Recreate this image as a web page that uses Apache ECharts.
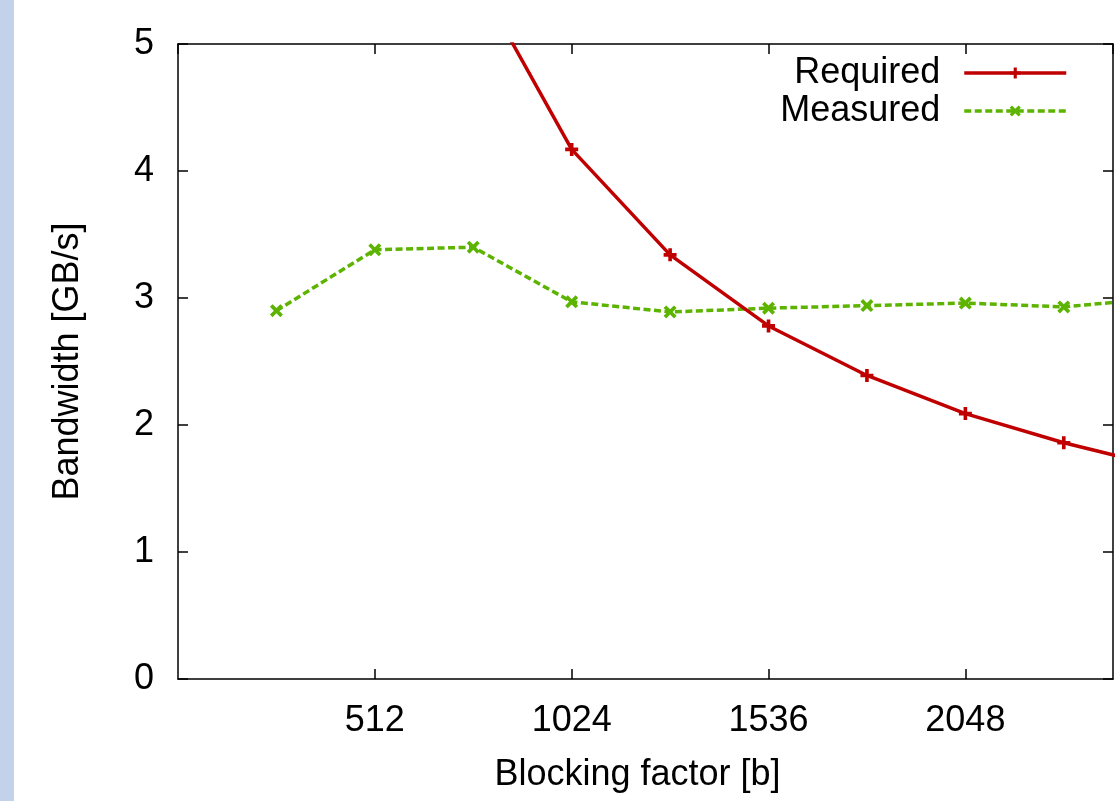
<!DOCTYPE html>
<html>
<head>
<meta charset="utf-8">
<script src="https://cdn.jsdelivr.net/npm/echarts@6/dist/echarts.min.js"></script>
<style>
html,body{margin:0;padding:0;background:#fff;}
#chart{width:1115px;height:801px;}
</style>
</head>
<body>
<div id="chart"></div>
<script>
// ---- data ----
var blockSizes = [256, 512, 768, 1024, 1280, 1536, 1792, 2048, 2304, 2560];
var requiredBW = [16.68, 8.34, 5.56, 4.17, 3.34, 2.78, 2.39, 2.09, 1.86, 1.67];
var measuredBW = [2.90, 3.38, 3.40, 2.97, 2.89, 2.92, 2.94, 2.96, 2.93, 3.00];
var seriesNames = ['Required', 'Measured'];
var xTitle = 'Blocking factor [b]';
var yTitle = 'Bandwidth [GB/s]';

function pairs(xs, ys) { return xs.map(function (x, i) { return [x, ys[i]]; }); }

var FONT = 'Liberation Sans, Arial, Helvetica, sans-serif';
var FS = 36;
var RED = '#c00000';
var GREEN = '#5cb400';
var plusPath = 'path://M3.6,0h2.8v3.6h3.6v2.8h-3.6v3.6h-2.8v-3.6h-3.6v-2.8h3.6z';
var crossPath = 'path://M0,2L2,0L5,3L8,0L10,2L7,5L10,8L8,10L5,7L2,10L0,8L3,5Z';

var chart = echarts.init(document.getElementById('chart'), null, {renderer: 'canvas'});
var axisLine = {show: true, onZero: false, lineStyle: {color: '#000', width: 1.5}};
var tickIn = {show: true, inside: true, length: 10, lineStyle: {color: '#000', width: 1.5}};
function plain(v) { return String(v); }

chart.setOption({
  animation: false,
  backgroundColor: '#fff',
  textStyle: {fontFamily: FONT},
  graphic: [{
    type: 'rect', left: 0, top: 0, z: -10,
    shape: {width: 14, height: 801},
    style: {fill: '#c2d2ea'}
  }],
  grid: {left: 178, right: 2, top: 44, bottom: 122, containLabel: false},
  legend: {
    orient: 'vertical', right: 47, top: 55, align: 'right',
    itemWidth: 102, itemHeight: 14, itemGap: 2, padding: 0,
    selectedMode: false,
    lineStyle: {width: 3.5},
    textStyle: {fontSize: FS, color: '#000', fontFamily: FONT, lineHeight: 36, padding: [0, 19, 0, 0]},
    data: seriesNames
  },
  xAxis: [{
    type: 'value', min: 0, max: 2432, interval: 512,
    name: xTitle, nameLocation: 'middle', nameGap: 78,
    nameTextStyle: {fontSize: FS, color: '#000', fontFamily: FONT, padding: [0, 16, 0, 0]},
    axisLine: axisLine, axisTick: tickIn,
    axisLabel: {fontSize: FS, color: '#000', margin: 24, fontFamily: FONT, showMinLabel: false, showMaxLabel: false, formatter: plain},
    splitLine: {show: false}
  }, {
    type: 'value', position: 'top', min: 0, max: 2432, interval: 512,
    axisLine: axisLine, axisTick: tickIn, axisLabel: {show: false}, splitLine: {show: false}
  }],
  yAxis: [{
    type: 'value', min: 0, max: 5, interval: 1,
    name: yTitle, nameLocation: 'middle', nameGap: 92,
    nameTextStyle: {fontSize: FS, color: '#000', fontFamily: FONT},
    axisLine: axisLine, axisTick: tickIn,
    axisLabel: {fontSize: FS, color: '#000', margin: 24, fontFamily: FONT, formatter: plain},
    splitLine: {show: false}
  }, {
    type: 'value', position: 'right', min: 0, max: 5, interval: 1,
    axisLine: axisLine, axisTick: tickIn, axisLabel: {show: false}, splitLine: {show: false}
  }],
  series: [{
    name: seriesNames[0], type: 'line', clip: true,
    data: pairs(blockSizes, requiredBW),
    symbol: plusPath, symbolSize: 13, showAllSymbol: true,
    itemStyle: {color: RED},
    lineStyle: {color: RED, width: 3.5},
    z: 3
  }, {
    name: seriesNames[1], type: 'line', clip: true,
    data: pairs(blockSizes, measuredBW),
    symbol: crossPath, symbolSize: 13, showAllSymbol: true,
    itemStyle: {color: GREEN},
    lineStyle: {color: GREEN, width: 3.5, type: [7, 3.5]},
    z: 2
  }]
});
</script>
</body>
</html>
